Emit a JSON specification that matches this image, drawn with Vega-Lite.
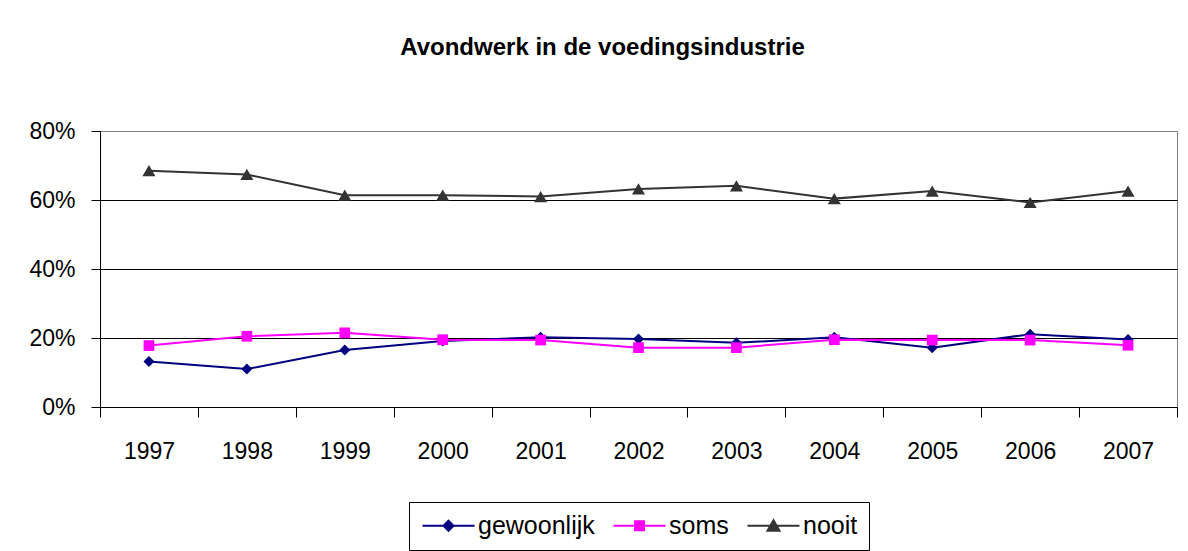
{
  "$schema": "https://vega.github.io/schema/vega-lite/v6.json",
  "width": 1077,
  "height": 276,
  "autosize": "none",
  "padding": {"left": 100, "top": 131, "right": 11, "bottom": 144},
  "background": "white",
  "title": {
    "text": "Avondwerk in de voedingsindustrie",
    "font": "Liberation Sans",
    "fontSize": 24,
    "fontWeight": "bold",
    "color": "black",
    "anchor": "middle",
    "frame": "group",
    "baseline": "alphabetic",
    "offset": 41,
    "dx": -36
  },
  "data": {
    "values": [
      {"year": "1997", "serie": "gewoonlijk", "value": 0.132},
      {"year": "1998", "serie": "gewoonlijk", "value": 0.110},
      {"year": "1999", "serie": "gewoonlijk", "value": 0.165},
      {"year": "2000", "serie": "gewoonlijk", "value": 0.191},
      {"year": "2001", "serie": "gewoonlijk", "value": 0.202},
      {"year": "2002", "serie": "gewoonlijk", "value": 0.197},
      {"year": "2003", "serie": "gewoonlijk", "value": 0.186},
      {"year": "2004", "serie": "gewoonlijk", "value": 0.202},
      {"year": "2005", "serie": "gewoonlijk", "value": 0.172},
      {"year": "2006", "serie": "gewoonlijk", "value": 0.211},
      {"year": "2007", "serie": "gewoonlijk", "value": 0.196},
      {"year": "1997", "serie": "soms", "value": 0.178},
      {"year": "1998", "serie": "soms", "value": 0.205},
      {"year": "1999", "serie": "soms", "value": 0.215},
      {"year": "2000", "serie": "soms", "value": 0.195},
      {"year": "2001", "serie": "soms", "value": 0.194},
      {"year": "2002", "serie": "soms", "value": 0.172},
      {"year": "2003", "serie": "soms", "value": 0.172},
      {"year": "2004", "serie": "soms", "value": 0.195},
      {"year": "2005", "serie": "soms", "value": 0.194},
      {"year": "2006", "serie": "soms", "value": 0.194},
      {"year": "2007", "serie": "soms", "value": 0.179},
      {"year": "1997", "serie": "nooit", "value": 0.685},
      {"year": "1998", "serie": "nooit", "value": 0.674},
      {"year": "1999", "serie": "nooit", "value": 0.614},
      {"year": "2000", "serie": "nooit", "value": 0.614},
      {"year": "2001", "serie": "nooit", "value": 0.610},
      {"year": "2002", "serie": "nooit", "value": 0.632},
      {"year": "2003", "serie": "nooit", "value": 0.641},
      {"year": "2004", "serie": "nooit", "value": 0.604},
      {"year": "2005", "serie": "nooit", "value": 0.626},
      {"year": "2006", "serie": "nooit", "value": 0.593},
      {"year": "2007", "serie": "nooit", "value": 0.626}
    ]
  },
  "encoding": {
    "x": {
      "field": "year",
      "type": "ordinal",
      "scale": {"type": "band", "paddingInner": 0, "paddingOuter": 0},
      "axis": {
        "title": null,
        "labelAngle": 0,
        "labelFont": "Liberation Sans",
        "labelFontSize": 23,
        "labelColor": "black",
        "labelBaseline": "middle",
        "tickBand": "extent",
        "tickSize": 10,
        "tickColor": "black",
        "domainColor": "black",
        "labelPadding": 34,
        "grid": false
      }
    },
    "y": {
      "field": "value",
      "type": "quantitative",
      "scale": {"domain": [0, 0.8], "nice": false},
      "axis": {
        "title": null,
        "values": [0, 0.2, 0.4, 0.6, 0.8],
        "format": ".0%",
        "labelFont": "Liberation Sans",
        "labelFontSize": 23,
        "labelColor": "black",
        "tickSize": 9,
        "tickColor": "black",
        "domainColor": "black",
        "labelPadding": 16,
        "grid": true,
        "gridOpacity": 1,
        "gridColor": {"condition": {"test": "datum.value >= 0.79", "value": "#808080"}, "value": "black"}
      }
    },
    "color": {
      "field": "serie",
      "type": "nominal",
      "scale": {"domain": ["gewoonlijk", "soms", "nooit"], "range": ["#000080", "#FF00FF", "#333333"]},
      "legend": {"title": null}
    }
  },
  "layer": [
    {"mark": {"type": "line", "strokeWidth": 2}},
    {
      "transform": [{"filter": "datum.serie === 'gewoonlijk'"}],
      "mark": {"type": "point", "filled": true, "opacity": 1, "shape": "diamond", "size": 120}
    },
    {
      "transform": [{"filter": "datum.serie === 'soms'"}],
      "mark": {"type": "point", "filled": true, "opacity": 1, "shape": "square", "size": 115}
    },
    {
      "transform": [{"filter": "datum.serie === 'nooit'"}],
      "mark": {"type": "point", "filled": true, "opacity": 1, "shape": "triangle-up", "size": 170}
    },
    {
      "transform": [{"filter": "false"}],
      "mark": {"type": "point", "filled": true, "opacity": 1},
      "encoding": {
        "shape": {
          "field": "serie",
          "type": "nominal",
          "scale": {
            "domain": ["gewoonlijk", "soms", "nooit"],
            "range": [
              "M-5.2,0H5.2M0,-1L1,0L0,1L-1,0Z",
              "M-5.2,0H5.2M-0.9,-0.9H0.9V0.9H-0.9Z",
              "M-5.2,0H5.2M0,-1.1L1.2,1H-1.2Z"
            ]
          },
          "legend": {"title": null}
        }
      }
    }
  ],
  "config": {
    "view": {"stroke": "#808080", "strokeWidth": 1},
    "axis": {"domainWidth": 1, "tickWidth": 1, "gridWidth": 1},
    "legend": {
      "orient": "none",
      "legendX": 309,
      "legendY": 371,
      "direction": "horizontal",
      "strokeColor": "black",
      "fillColor": "white",
      "padding": 11,
      "labelFont": "Liberation Sans",
      "labelFontSize": 25,
      "labelColor": "black",
      "labelOffset": 17,
      "columnPadding": 14,
      "symbolSize": 100,
      "symbolOffset": 16,
      "symbolStrokeWidth": 2,
      "symbolOpacity": 1
    }
  }
}
